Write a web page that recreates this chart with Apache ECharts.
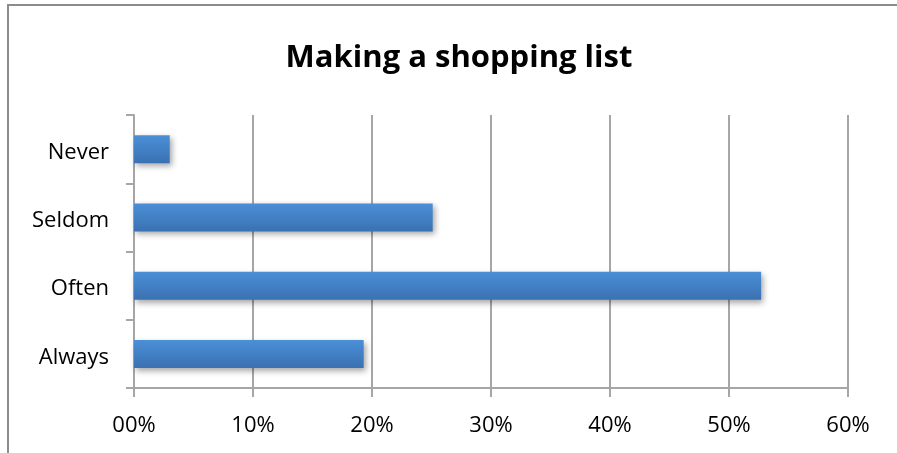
<!DOCTYPE html>
<html>
<head>
<meta charset="utf-8">
<style>
  html, body { margin: 0; padding: 0; background: #fff; }
  #chart { width: 897px; height: 453px; }
</style>
<script src="https://cdn.jsdelivr.net/npm/echarts@6/dist/echarts.min.js"></script>
</head>
<body>
<div id="chart"></div>
<script>
// Survey answers, bottom-to-top as the category axis lists them
const categories = ['Always', 'Often', 'Seldom', 'Never'];
const shares = [19.3, 52.7, 25.1, 3.0];
const tickLabels = ['00%', '10%', '20%', '30%', '40%', '50%', '60%'];
const chartTitle = 'Making a shopping list';

const font = '"Open Sans", "Noto Sans", sans-serif';
const gridGray = '#a6a6a6';

const chart = echarts.init(document.getElementById('chart'), null, { renderer: 'canvas' });

chart.setOption({
  animation: false,
  backgroundColor: '#ffffff',
  title: {
    text: chartTitle,
    left: 454,
    top: 38,
    textAlign: 'center',
    textStyle: { fontFamily: font, fontWeight: 'bold', fontSize: 31, color: '#000' }
  },
  graphic: [{
    // chart-area frame: left and top edges
    type: 'polyline',
    shape: { points: [[8, 470], [8, 5], [910, 5]] },
    style: { fill: 'none', stroke: '#8c8c8c', lineWidth: 2 },
    silent: true,
    z: 0
  }],
  grid: { left: 134, right: 49, top: 115, bottom: 65, containLabel: false },
  xAxis: {
    type: 'value',
    min: 0,
    max: 60,
    interval: 10,
    axisLine: { show: true, lineStyle: { color: gridGray, width: 2 } },
    axisTick: { show: true, length: 9, lineStyle: { color: gridGray, width: 2 } },
    splitLine: { show: true, lineStyle: { color: gridGray, width: 2 } },
    axisLabel: {
      margin: 27,
      fontFamily: font,
      fontSize: 22,
      color: '#000',
      formatter: v => tickLabels[Math.round(v / 10)]
    }
  },
  yAxis: {
    type: 'category',
    data: categories,
    axisLine: { show: true, lineStyle: { color: gridGray, width: 2 } },
    axisTick: { show: true, length: 8, lineStyle: { color: gridGray, width: 2 } },
    axisLabel: {
      margin: 25,
      fontFamily: font,
      fontSize: 22,
      color: '#000',
      formatter: v => '{c|' + v + '}',
      rich: { c: { fontFamily: font, fontSize: 22, color: '#000', padding: [7, 0, 0, 0] } }
    }
  },
  series: [{
    type: 'bar',
    data: shares,
    barWidth: 28,
    itemStyle: {
      color: new echarts.graphic.LinearGradient(0, 0, 0, 1, [
        { offset: 0, color: '#4b8fd7' },
        { offset: 1, color: '#3a71b2' }
      ]),
      shadowColor: 'rgba(0,0,0,0.35)',
      shadowBlur: 6,
      shadowOffsetX: 2,
      shadowOffsetY: 3
    },
    z: 3
  }]
});
</script>
</body>
</html>
